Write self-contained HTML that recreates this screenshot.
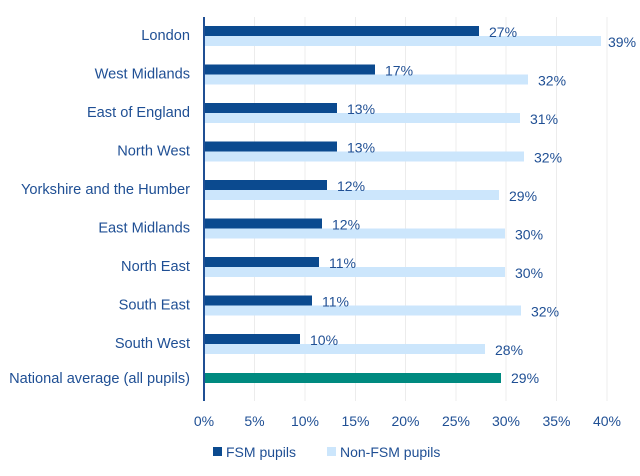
<!DOCTYPE html>
<html><head><meta charset="utf-8"><style>
html,body{margin:0;padding:0;background:#fff;}
svg{display:block;font-family:"Liberation Sans",sans-serif;}
text{fill:#1f4f94;font-size:14px;}
.cat{font-size:14.6px;}
</style></head><body>
<svg width="640" height="476" viewBox="0 0 640 476">
<g stroke="#ececec" stroke-width="1">
<line x1="254.5" y1="17" x2="254.5" y2="401"/><line x1="305" y1="17" x2="305" y2="401"/>
<line x1="355.5" y1="17" x2="355.5" y2="401"/><line x1="405.5" y1="17" x2="405.5" y2="401"/>
<line x1="456" y1="17" x2="456" y2="401"/><line x1="506" y1="17" x2="506" y2="401"/>
<line x1="556.5" y1="17" x2="556.5" y2="401"/><line x1="607" y1="17" x2="607" y2="401"/>
</g>
<g fill="#0b4a8f">
<rect x="204" y="26" width="275" height="10"/>
<rect x="204" y="64.5" width="171" height="10"/>
<rect x="204" y="103" width="133" height="10"/>
<rect x="204" y="141.5" width="133" height="10"/>
<rect x="204" y="180" width="123" height="10"/>
<rect x="204" y="218.5" width="118" height="10"/>
<rect x="204" y="257" width="115" height="10"/>
<rect x="204" y="295.5" width="108" height="10"/>
<rect x="204" y="334" width="96" height="10"/>
</g>
<g fill="#cce6fc">
<rect x="204" y="36" width="397" height="10"/>
<rect x="204" y="74.5" width="324" height="10"/>
<rect x="204" y="113" width="316" height="10"/>
<rect x="204" y="151.5" width="320" height="10"/>
<rect x="204" y="190" width="295" height="10"/>
<rect x="204" y="228.5" width="301" height="10"/>
<rect x="204" y="267" width="301" height="10"/>
<rect x="204" y="305.5" width="317" height="10"/>
<rect x="204" y="344" width="281" height="10"/>
</g>
<rect x="204" y="373" width="297" height="10" fill="#008a80"/>
<line x1="204" y1="17" x2="204" y2="401" stroke="#1f4f94" stroke-width="2"/>
<g text-anchor="end" dominant-baseline="central" class="cat">
<text class="cat" x="190" y="36">London</text>
<text class="cat" x="190" y="74.5">West Midlands</text>
<text class="cat" x="190" y="113">East of England</text>
<text class="cat" x="190" y="151.5">North West</text>
<text class="cat" x="190" y="190">Yorkshire and the Humber</text>
<text class="cat" x="190" y="228.5">East Midlands</text>
<text class="cat" x="190" y="267">North East</text>
<text class="cat" x="190" y="305.5">South East</text>
<text class="cat" x="190" y="344">South West</text>
<text class="cat" x="190" y="379">National average (all pupils)</text>
</g>
<g dominant-baseline="central">
<text x="489" y="32">27%</text><text x="608" y="42">39%</text>
<text x="385" y="70.5">17%</text><text x="538" y="80.5">32%</text>
<text x="347" y="109">13%</text><text x="530" y="119">31%</text>
<text x="347" y="147.5">13%</text><text x="534" y="157.5">32%</text>
<text x="337" y="186">12%</text><text x="509" y="196">29%</text>
<text x="332" y="224.5">12%</text><text x="515" y="234.5">30%</text>
<text x="329" y="263">11%</text><text x="515" y="273">30%</text>
<text x="322" y="301.5">11%</text><text x="531" y="311.5">32%</text>
<text x="310" y="340">10%</text><text x="495" y="350">28%</text>
<text x="511" y="378">29%</text>
</g>
<g text-anchor="middle" dominant-baseline="central">
<text x="204" y="421">0%</text><text x="254.5" y="421">5%</text>
<text x="305" y="421">10%</text><text x="355.5" y="421">15%</text>
<text x="405.5" y="421">20%</text><text x="456" y="421">25%</text>
<text x="506" y="421">30%</text><text x="556.5" y="421">35%</text>
<text x="607" y="421">40%</text>
</g>
<rect x="213" y="447" width="9" height="9" fill="#0b4a8f"/>
<text x="226" y="452" dominant-baseline="central">FSM pupils</text>
<rect x="327" y="447" width="9" height="9" fill="#cce6fc"/>
<text x="340" y="452" dominant-baseline="central">Non-FSM pupils</text>
</svg>
</body></html>
